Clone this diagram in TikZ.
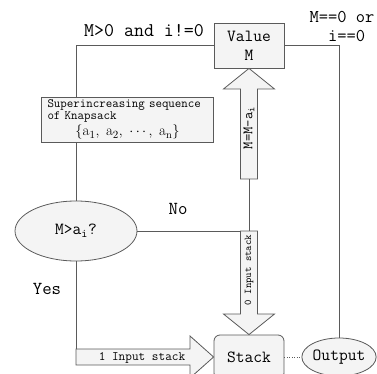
\documentclass[tikz,border=0pt]{standalone}
\usepackage{fontspec}
\usetikzlibrary{shapes.geometric}
\definecolor{boxfill}{HTML}{F4F4F4}
\definecolor{edge}{HTML}{5A5A5A}

\tikzset{
  box/.style={draw=edge, fill=boxfill, inner sep=0pt},
  arrowbox/.style={draw=edge, fill=boxfill, line join=miter},
  link/.style={draw=edge},
  fs/.style={font=\ttfamily\fontsize{#1}{#1}\selectfont}
}

\begin{document}
\begin{tikzpicture}[x=1pt, y=-1pt, line width=0.8pt]
    \useasboundingbox (0,0) rectangle (377,374);
    \clip (0,0) rectangle (377,374);

    % Boxes
    \node[box, minimum width=70pt, minimum height=45pt, align=center,
          font=\ttfamily\fontsize{17}{19}\selectfont] (val) at (249,45.5) {Value\\M};
    \node[box, minimum width=172pt, minimum height=45pt, inner xsep=6pt,
          text width=160pt, font=\ttfamily\fontsize{12.6}{12.6}\selectfont]
        (seq) at (127.5,119.5)
        {{\raggedright Superincreasing sequence\\of Knapsack\par}
         {\centering\fontsize{15}{16}\selectfont
          $\{\mathrm{a}_1,\ \mathrm{a}_2,\ \cdots,\ \mathrm{a}_\mathrm{n}\}$\par}};
    \node[box, ellipse, minimum width=122pt, minimum height=60pt, fs=17]
        (dec) at (76,231) {M>a\textsubscript{i}?};
    \node[box, rounded corners=6pt, minimum width=70pt, minimum height=44pt,
          fs=17] (stk) at (249,357) {Stack};
    \node[box, ellipse, minimum width=57pt, minimum height=38pt, fs=17]
        (out) at (339,357) {Output};

    % Block arrows
    \coordinate (upbot) at (249,179);
    \coordinate (lowtop) at (240.5,231);
    \coordinate (lowmid) at (249,231);
    \coordinate (yesend) at (76,349);

    \draw[arrowbox] (240.5,179) -- (240.5,89) -- (223.5,89) -- (val.south)
        -- (274.5,89) -- (257.5,89) -- (257.5,179) -- cycle;
    \node[rotate=90, fs=14.3] at (249,128) {M=M-a\textsubscript{i}};

    \draw[arrowbox] (lowtop) -- (240.5,314) -- (223.5,314) -- (stk.north)
        -- (274.5,314) -- (257.5,314) -- (257.5,231) -- cycle;
    \node[rotate=90, fs=10.3] at (249,270) {0 Input stack};

    \draw[arrowbox] (yesend) -- (190,349) -- (190,336) -- (stk.west)
        -- (190,378) -- (190,365) -- (76,365) -- cycle;
    \node[fs=12.9] at (142,358) {1 Input stack};

    % Connectors
    \draw[link] (val.west) -| (dec.north |- seq.north);
    \draw[link] (seq.south -| dec.north) -- (dec.north);
    \draw[link] (val.east) -| (out.north);
    \draw[link] (dec.east) -- (lowtop);
    \draw[link] (upbot) -- (lowmid);
    \draw[link] (dec.south) -- (yesend);
    \draw[link, dotted, line width=0.5pt] (stk.east) -- (out.west);

    % Labels
    \node[fs=19.4] at (144,31) {M>0 and i!=0};
    \node[align=center, font=\ttfamily\fontsize{18}{18.5}\selectfont]
        at (342,26.5) {M==0 or\\\hphantom{x}i==0};
    \node[fs=18.3] at (47,289) {Yes};
    \node[fs=18.3] at (178,209) {No};

\end{tikzpicture}
\end{document}
